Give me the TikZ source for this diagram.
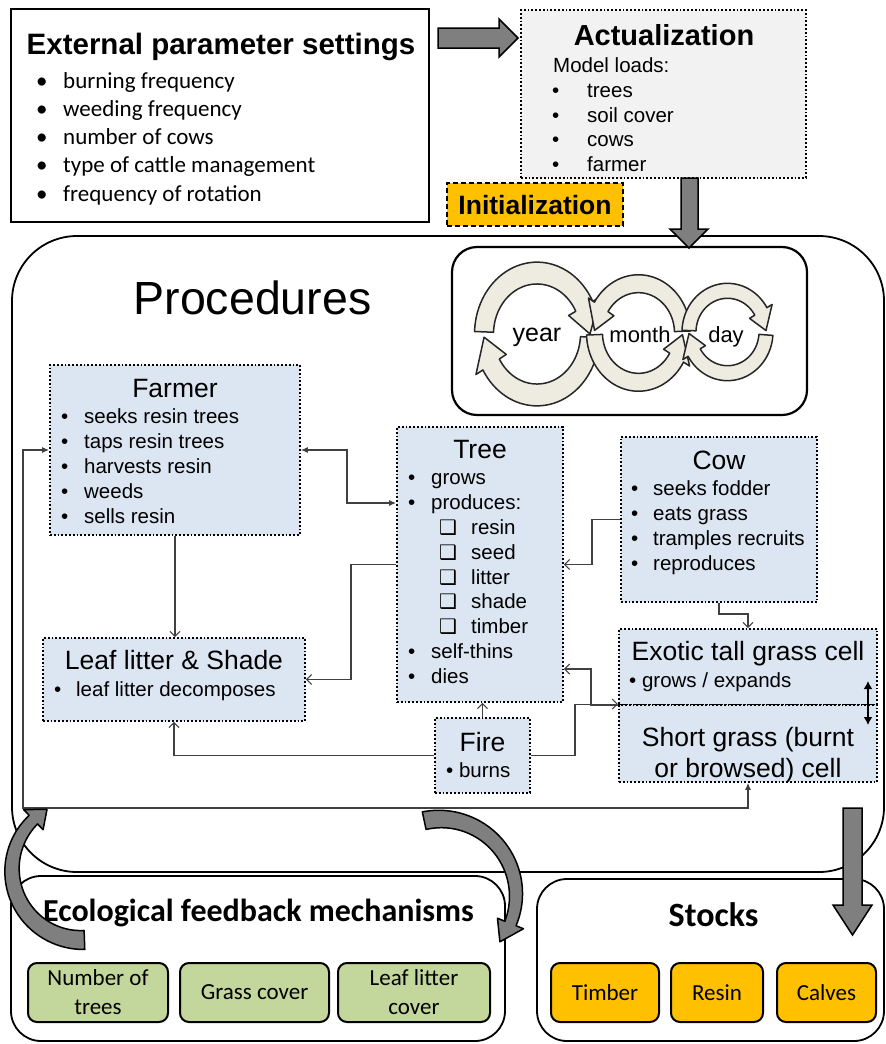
\documentclass[tikz,border=0pt]{standalone}
\usepackage{fontspec}
\setmainfont{Liberation Sans}
\newfontfamily\calib{Carlito}
\newfontfamily\dvs{DejaVu Sans}
\usetikzlibrary{arrows.meta,calc}

\definecolor{boxblue}{HTML}{DCE6F2}
\definecolor{boxgray}{HTML}{F2F2F2}
\definecolor{amber}{HTML}{FFC000}
\definecolor{leaf}{HTML}{C3D69B}
\definecolor{ringfill}{HTML}{EEECE1}
\definecolor{blockgray}{HTML}{7F7F7F}
\definecolor{wire}{HTML}{404040}

% curved block arrow around the current origin:
% #1 style, #2 radius, #3 tail width, #4 width at head, #5 tail angle,
% #6 head-base angle, #7 tip angle, #8 head overhang
\newcommand\bendarrow[8]{%
  \filldraw[#1]
    plot[domain=#5:#6, samples=40]
      ({(#2+(#3+(#4-#3)*(\x-#5)/(#6-#5))/2)*cos(\x)},
       {(#2+(#3+(#4-#3)*(\x-#5)/(#6-#5))/2)*sin(\x)})
    -- ({(#2+#4/2+#8)*cos(#6)}, {(#2+#4/2+#8)*sin(#6)})
    -- ({#2*cos(#7)}, {#2*sin(#7)})
    -- ({(#2-#4/2-#8)*cos(#6)}, {(#2-#4/2-#8)*sin(#6)})
    -- plot[domain=#6:#5, samples=40]
      ({(#2-(#3+(#4-#3)*(\x-#5)/(#6-#5))/2)*cos(\x)},
       {(#2-(#3+(#4-#3)*(\x-#5)/(#6-#5))/2)*sin(\x)})
    -- cycle;}

\begin{document}
\begin{tikzpicture}[x=1pt,y=-1pt,
  frame/.style={draw=black, inner sep=0pt},
  bbox/.style={draw=black, fill=boxblue, line width=1.8pt, dash pattern=on 1.8pt off 2pt, inner sep=0pt},
  ttl/.style={font=\fontsize{26.5}{30}\selectfont, inner sep=0pt, text height=19pt, text depth=0pt},
  bdy/.style={font=\fontsize{20.5}{24}\selectfont, inner sep=0pt, anchor=west, text height=15pt, text depth=0pt},
  ring/.style={fill=ringfill, draw=black!85, line width=1.5pt, line join=round},
  fb/.style={fill=blockgray, draw=black, line width=1.5pt, line join=round},
  blk/.style={fill=blockgray, draw=black, line width=1.5pt},
  wire/.style={draw=wire, line width=1.1pt},
  barbend/.style={-{Straight Barb[length=5pt,width=10pt]}},
  gbox/.style={draw=black, line width=2pt, rounded corners=9pt, fill=leaf, inner sep=0pt, align=center, font=\calib\fontsize{23}{29}\selectfont},
  obox/.style={gbox, fill=amber}]
\useasboundingbox (0,0) rectangle (886,1044);

% ---------- procedures frame ----------
\node[frame, line width=1.8pt, rounded corners=65pt, minimum width=872pt, minimum height=636pt] (proc) at (448,554) {};
\node[font=\fontsize{46.5}{50}\selectfont, inner sep=0pt, text height=33pt, text depth=0pt] (proctitle) at (252.5,298) {Procedures};

% ---------- external parameters ----------
\node[frame, line width=2.5pt, minimum width=418pt, minimum height=213pt] (ext) at (220,115.5) {};
\node[font=\bfseries\fontsize{29.5}{33}\selectfont, inner sep=0pt, text height=21pt, text depth=0pt] (extttl) at (221,44) {External parameter settings};
\foreach \itm [count=\i] in {burning frequency, weeding frequency, number of cows, type of cattle management, frequency of rotation}
  \node[anchor=west, inner sep=0pt, font=\calib\fontsize{23}{27}\selectfont, text height=16pt, text depth=0pt] (ext\i) at (36,{80+28.3*(\i-1)}) {\makebox[27pt][l]{\textbullet}\itm};

% ---------- actualization ----------
\node[bbox, fill=boxgray, minimum width=285pt, minimum height=168pt] (act) at (663.5,94) {};
\node[font=\bfseries\fontsize{29}{33}\selectfont, inner sep=0pt, text height=21pt, text depth=0pt] (actttl) at (664,35) {Actualization};
\node[bdy] (actsub) at (553,65) {Model loads:};
\foreach \itm [count=\i] in {trees, soil cover, cows, farmer}
  \node[bdy] (act\i) at (552,{90+24.7*(\i-1)}) {\makebox[35pt][l]{\textbullet}\itm};

\node[draw=black, fill=amber, line width=1.2pt, dash pattern=on 5pt off 3pt, minimum width=176pt, minimum height=43pt, inner sep=0pt, font=\bfseries\fontsize{26.5}{30}\selectfont, text height=19pt, text depth=0pt] (init) at (535,204.5) {Initialization};

% ---------- time cycles ----------
\node[frame, line width=2.2pt, rounded corners=25pt, minimum width=355pt, minimum height=168pt] (cyc) at (629.5,331) {};
\begin{scope}[shift={(537,334)}, yscale=1.15]
  \bendarrow{ring}{53}{19}{19}{182}{333}{360}{8}
  \bendarrow{ring}{53}{19}{19}{3}{150}{177}{8}
\end{scope}
\begin{scope}[shift={(638.5,333)}, yscale=1.12]
  \bendarrow{ring}{44}{16}{16}{358}{212}{183}{7}
  \bendarrow{ring}{44}{16}{16}{178}{30}{2}{7}
\end{scope}
\begin{scope}[shift={(727.5,332)}, yscale=1.07]
  \bendarrow{ring}{38.5}{14}{14}{182}{330}{358}{6}
  \bendarrow{ring}{38.5}{14}{14}{4}{150}{178}{6}
\end{scope}
\node[font=\fontsize{25}{28}\selectfont, inner sep=0pt, text height=13pt, text depth=0pt] (yr) at (537,335) {year};
\node[font=\fontsize{22}{26}\selectfont, inner sep=0pt, text height=16pt, text depth=0pt] (mo) at (640,334) {month};
\node[font=\fontsize{22}{26}\selectfont, inner sep=0pt, text height=16pt, text depth=0pt] (dy) at (726,334) {day};

% ---------- agents and cells ----------
\node[bbox, minimum width=250pt, minimum height=170pt] (farmer) at (175,450) {};
\node[ttl] (farmerttl) at (175,388) {Farmer};
\foreach \itm [count=\i] in {seeks resin trees, taps resin trees, harvests resin, weeds, sells resin}
  \node[bdy] (fa\i) at (61,{416+25*(\i-1)}) {\makebox[23pt][l]{\textbullet}\itm};

\node[bbox, minimum width=166pt, minimum height=275pt] (tree) at (480,564.5) {};
\node[ttl] (treettl) at (480,449) {Tree};
\node[bdy] (tr1) at (408,477) {\makebox[23pt][l]{\textbullet}grows};
\node[bdy] (tr2) at (408,502) {\makebox[23pt][l]{\textbullet}produces:};
\foreach \itm [count=\i] in {resin, seed, litter, shade, timber}
  \node[bdy] (trp\i) at (439,{527+24.8*(\i-1)}) {\makebox[32pt][l]{\dvs\fontsize{20}{22}\selectfont ❑}\itm};
\node[bdy] (tr3) at (408,651) {\makebox[23pt][l]{\textbullet}self-thins};
\node[bdy] (tr4) at (408,676) {\makebox[23pt][l]{\textbullet}dies};

\node[bbox, minimum width=196pt, minimum height=165pt] (cow) at (719,519.5) {};
\node[ttl] (cowttl) at (719,460) {Cow};
\foreach \itm [count=\i] in {seeks fodder, eats grass, tramples recruits, reproduces}
  \node[bdy] (cw\i) at (631,{488+25*(\i-1)}) {\makebox[22pt][l]{\textbullet}\itm};

\node[bbox, minimum width=258pt, minimum height=76pt] (tall) at (748,667) {};
\node[bbox, minimum width=258pt, minimum height=77pt] (short) at (748,743.5) {};
\node[ttl] (tallttl) at (748,651) {Exotic tall grass cell};
\node[bdy] (tall1) at (629,680) {\textbullet{} grows / expands};
\node[ttl] (shortttl1) at (748,737) {Short grass (burnt};
\node[ttl] (shortttl2) at (748,768) {or browsed) cell};

\node[bbox, minimum width=262pt, minimum height=83pt] (litter) at (174,679.5) {};
\node[ttl] (litterttl) at (174,660) {Leaf litter \& Shade};
\node[bdy] (lt1) at (54,689) {\makebox[22pt][l]{\textbullet}leaf litter decomposes};

\node[bbox, minimum width=95pt, minimum height=75pt] (fire) at (482.5,755.5) {};
\node[ttl] (firettl) at (482.5,742) {Fire};
\node[bdy] (fr1) at (446,770) {\textbullet{} burns};

% ---------- interactions ----------
\draw[wire, {Latex[length=7pt,width=6pt]}-{Latex[length=7pt,width=6pt]}] (farmer.east) -- (347,450) -- (347,503) -- (tree.west |- 0,503);
\draw[wire, barbend] (farmer.south) -- (farmer.south |- litter.north);
\draw[wire, barbend] (tree.west) -| (351,620) |- (litter.east);
\draw[wire, barbend] (fire.west) -| (litter.south);
\draw[wire, barbend] (fire.north) -- (fire.north |- tree.south);
\draw[wire, barbend] (fire.east) -| (575,730) |- (short.north west);
\draw[wire, barbend] (cow.west) -| (592,540) |- (tree.east);
\draw[wire, barbend] (cow.south) |- (748,614) -- (tall.north);
\draw[wire, barbend] (tall.south west) -| (591,690) |- (tree.east |- 0,669);
\draw[wire, {Latex[length=7pt,width=6pt]}-{Latex[length=7pt,width=6pt]}] (farmer.west) -| (23,600) |- (748,808) -- (short.south);
\coordinate (sw1) at (868,681);
\coordinate (sw2) at (868,725);
\draw[line width=2.4pt, {Latex[length=8pt,width=9pt]}-{Latex[length=8pt,width=9pt]}] (sw1) -- (sw2);

% ---------- feedback and stocks ----------
\node[frame, line width=1.8pt, rounded corners=30pt, minimum width=494pt, minimum height=165pt] (eco) at (258,958.5) {};
\node[font=\calib\bfseries\fontsize{32}{36}\selectfont, inner sep=0pt, text height=20pt, text depth=0pt] (ecottl) at (258.5,911) {Ecological feedback mechanisms};
\node[gbox, minimum width=140pt, minimum height=59pt] (ntrees) at (98,992.5) {Number of\\trees};
\node[gbox, minimum width=149pt, minimum height=59pt] (grass) at (254.5,992.5) {Grass cover};
\node[gbox, minimum width=152pt, minimum height=59pt] (lcover) at (414,992.5) {Leaf litter\\cover};

\node[frame, line width=1.8pt, rounded corners=30pt, minimum width=347pt, minimum height=162pt] (stk) at (710.5,960) {};
\node[font=\calib\bfseries\fontsize{34}{38}\selectfont, inner sep=0pt, text height=21pt, text depth=0pt] (stkttl) at (713.5,916) {Stocks};
\node[obox, minimum width=108pt, minimum height=59pt] (timber) at (605,992.5) {Timber};
\node[obox, minimum width=92pt, minimum height=59pt] (resin) at (717,992.5) {Resin};
\node[obox, minimum width=99pt, minimum height=59pt] (calves) at (826.5,992.5) {Calves};

% ---------- block arrows ----------
\filldraw[blk] (438,28) -- (499,28) -- (499,19) -- (518,38) -- (499,57) -- (499,48) -- (438,48) -- cycle;
\filldraw[blk] (681,178) -- (698,178) -- (698,229) -- (708,229) -- (689,248) -- (670,229) -- (681,229) -- cycle;
\filldraw[blk] (843,808) -- (862,808) -- (862,905) -- (872,905) -- (852.5,935) -- (833,905) -- (843,905) -- cycle;
\begin{scope}[shift={(82,870)}]
  \bendarrow{fb}{70}{19}{12}{88}{226}{240}{8}
\end{scope}
\begin{scope}[shift={(440,895)}]
  \bendarrow{fb}{76}{18}{12}{258}{382}{398}{8}
\end{scope}
\end{tikzpicture}
\end{document}
